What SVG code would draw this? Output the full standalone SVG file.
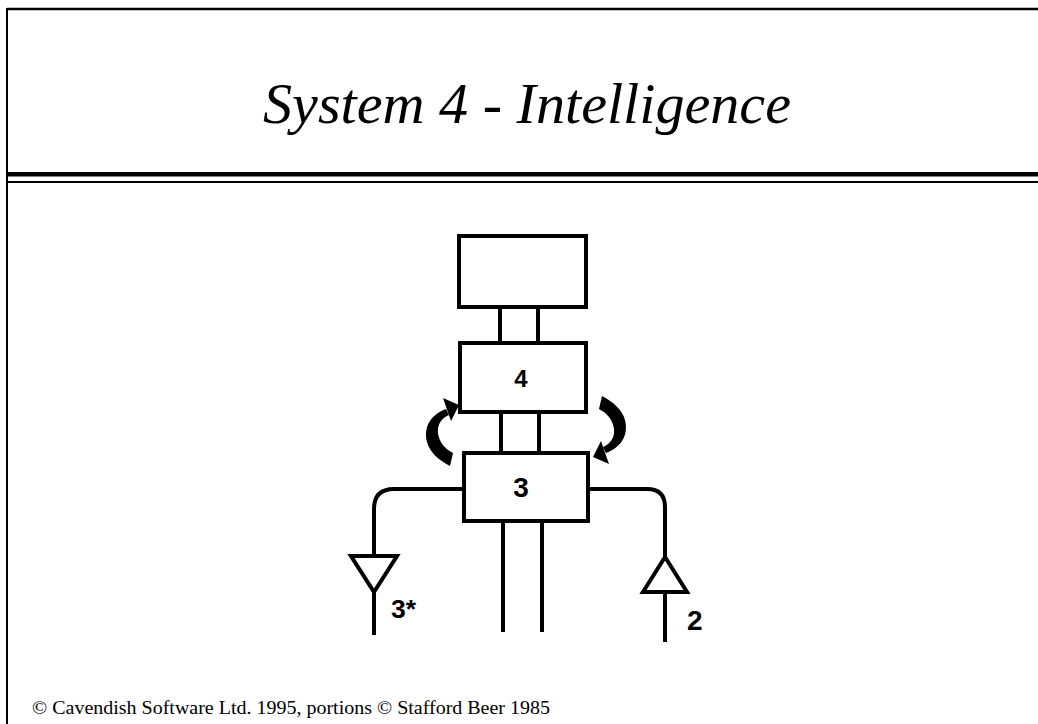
<svg xmlns="http://www.w3.org/2000/svg" width="1038" height="724" viewBox="0 0 1038 724">
  <defs>
    <style>
      .ln { fill: none; stroke: #000; stroke-width: 4; }
      .box { fill: #fff; stroke: #000; stroke-width: 4; }
      .tri { fill: #fff; stroke: #000; stroke-width: 4; stroke-linejoin: miter; }
      .lbl { font-family: "Liberation Sans", Arial, sans-serif; font-weight: bold; fill: #000; }
      .arrow { fill: #000; stroke: none; }
    </style>
    <g id="curveArrow">
      <path d="M 446 409 C 432 414 423 426 427 442 C 430 453 439 460 450 466 L 453 453 C 445 449 439 442 438 433 C 437 424 442 418 449 415 Z"/>
      <path d="M 443 398 L 459 405 L 451 421 Z"/>
    </g>
  </defs>
  <rect width="1038" height="724" fill="#fff"/>

  <g id="frame">
    <line x1="7" y1="9" x2="1038" y2="9" stroke="#000" stroke-width="2.5"/>
    <line x1="7" y1="8" x2="7" y2="724" stroke="#000" stroke-width="2"/>
    <rect x="8" y="172" width="1030" height="4.5" fill="#000"/>
    <rect x="8" y="181" width="1030" height="2" fill="#000"/>
  </g>

  <g id="title">
    <text x="263" y="123" font-family="'Liberation Serif', 'Times New Roman', serif" font-style="italic" font-size="56" textLength="528" lengthAdjust="spacingAndGlyphs">System 4 - Intelligence</text>
  </g>

  <g id="connectors">
    <line class="ln" x1="500" y1="307" x2="500" y2="343"/>
    <line class="ln" x1="538" y1="307" x2="538" y2="343"/>
    <line class="ln" x1="501" y1="412" x2="501" y2="453"/>
    <line class="ln" x1="539" y1="412" x2="539" y2="453"/>
    <line class="ln" x1="503" y1="521" x2="503" y2="632"/>
    <line class="ln" x1="542" y1="521" x2="542" y2="632"/>
    <path class="ln" d="M 464 489 L 394 489 Q 374 489 374 509 L 374 556"/>
    <line class="ln" x1="374" y1="592" x2="374" y2="635"/>
    <path class="ln" d="M 588 489 L 647 489 Q 665 489 665 507 L 665 556"/>
    <line class="ln" x1="665" y1="592" x2="665" y2="642"/>
    <polygon class="tri" points="351,556 397,556 374,592"/>
    <polygon class="tri" points="665,557 643,592 687,592"/>
    <g id="arrow-up" class="arrow"><use href="#curveArrow"/></g>
    <g id="arrow-down" class="arrow" transform="rotate(180 526 431)"><use href="#curveArrow"/></g>
  </g>

  <g id="node-top">
    <rect class="box" x="459" y="236" width="127" height="71"/>
  </g>
  <g id="node-4">
    <rect class="box" x="460" y="343" width="126" height="69"/>
    <text class="lbl" x="521" y="387" font-size="24" text-anchor="middle">4</text>
  </g>
  <g id="node-3">
    <rect class="box" x="464" y="453" width="124" height="68"/>
    <text class="lbl" x="521" y="497" font-size="28" text-anchor="middle">3</text>
  </g>
  <g id="label-3star">
    <text class="lbl" x="391" y="618" font-size="26.5">3*</text>
  </g>
  <g id="label-2">
    <text class="lbl" x="687" y="630" font-size="28">2</text>
  </g>

  <g id="footer">
    <text x="32" y="714" font-family="'Liberation Serif', 'Times New Roman', serif" font-size="19.5" textLength="518" lengthAdjust="spacingAndGlyphs">© Cavendish Software Ltd. 1995, portions © Stafford Beer 1985</text>
  </g>
</svg>
